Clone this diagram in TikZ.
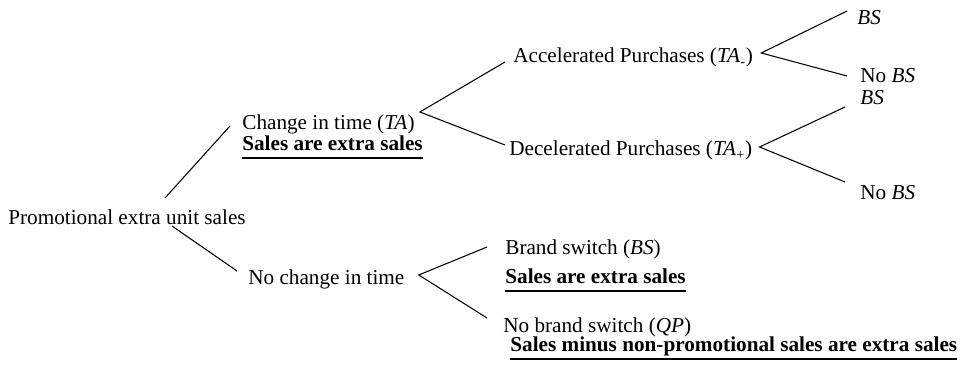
\documentclass[tikz,border=0pt]{standalone}
\usepackage{fontspec}
\setmainfont{Liberation Serif}
\usetikzlibrary{calc}
\tikzset{
  leaf/.style={anchor=west, inner sep=0pt, text height=1.6ex, text depth=0.4ex,
               font=\fontsize{12}{14}\selectfont},
  result/.style={leaf, font=\fontsize{12}{14}\selectfont\bfseries},
  branch/.style={draw=black, line width=0.6pt},
}
% bold note with a heavier, lower underline
\newcommand{\salesnote}[1]{\setbox0=\hbox{#1}\rlap{\rule[-4.6pt]{\wd0}{0.9pt}}\box0}

\begin{document}
\begin{tikzpicture}[x=0.566pt, y=-0.566pt]

  \useasboundingbox (0,0) rectangle (965,367);

  % root and first split
  \node[leaf] (root)   at (8,220)   {Promotional extra unit sales};
  \node[leaf] (ta)     at (242,125) {Change in time (\textit{TA})};
  \node[result] (tares) at (242,146) {\salesnote{Sales are extra sales}};
  \node[leaf] (noch)   at (248,280) {No change in time};

  % timing branches
  \node[leaf] (acc)    at (513,58)  {Accelerated Purchases (\textit{TA}\textsubscript{-})};
  \node[leaf] (dec)    at (509,151) {Decelerated Purchases (\textit{TA}\textsubscript{+})};

  \node[leaf] (bsa)    at (857,20)  {\textit{BS}};
  \node[leaf] (nobsa)  at (860,78)  {No \textit{BS}};
  \node[leaf] (bsd)    at (860,100) {\textit{BS}};
  \node[leaf] (nobsd)  at (860,195) {No \textit{BS}};

  % brand branches
  \node[leaf] (brand)  at (505,250) {Brand switch (\textit{BS})};
  \node[result] (brandres) at (505,279) {\salesnote{Sales are extra sales}};
  \node[leaf] (qp)     at (503,328) {No brand switch (\textit{QP})};
  \node[result] (qpres) at (510,347) {\salesnote{Sales minus non-promotional sales are extra sales}};

  \draw[branch] ([shift={(-81,-22)}]root.east) -- ([shift={(-12,1)}]ta.west);
  \draw[branch] ([shift={(-74,6)}]root.east)   -- ([shift={(-11,-9)}]noch.west);

  \draw[branch] ([shift={(-8,4)}]acc.west)  -- ([shift={(5,-13)}]ta.east) -- ([shift={(-4,-6)}]dec.west);
  \draw[branch] ([shift={(-10,-9)}]bsa.west) -- ([shift={(8,-5)}]acc.east) -- ([shift={(-13,-2)}]nobsa.west);
  \draw[branch] ([shift={(-15,7)}]bsd.west) -- ([shift={(7,-4)}]dec.east) -- ([shift={(-15,-13)}]nobsd.west);
  \draw[branch] ([shift={(-18,-3)}]brand.west) -- ([shift={(14,-5)}]noch.east) -- ([shift={(-16,-10)}]qp.west);

\end{tikzpicture}
\end{document}
